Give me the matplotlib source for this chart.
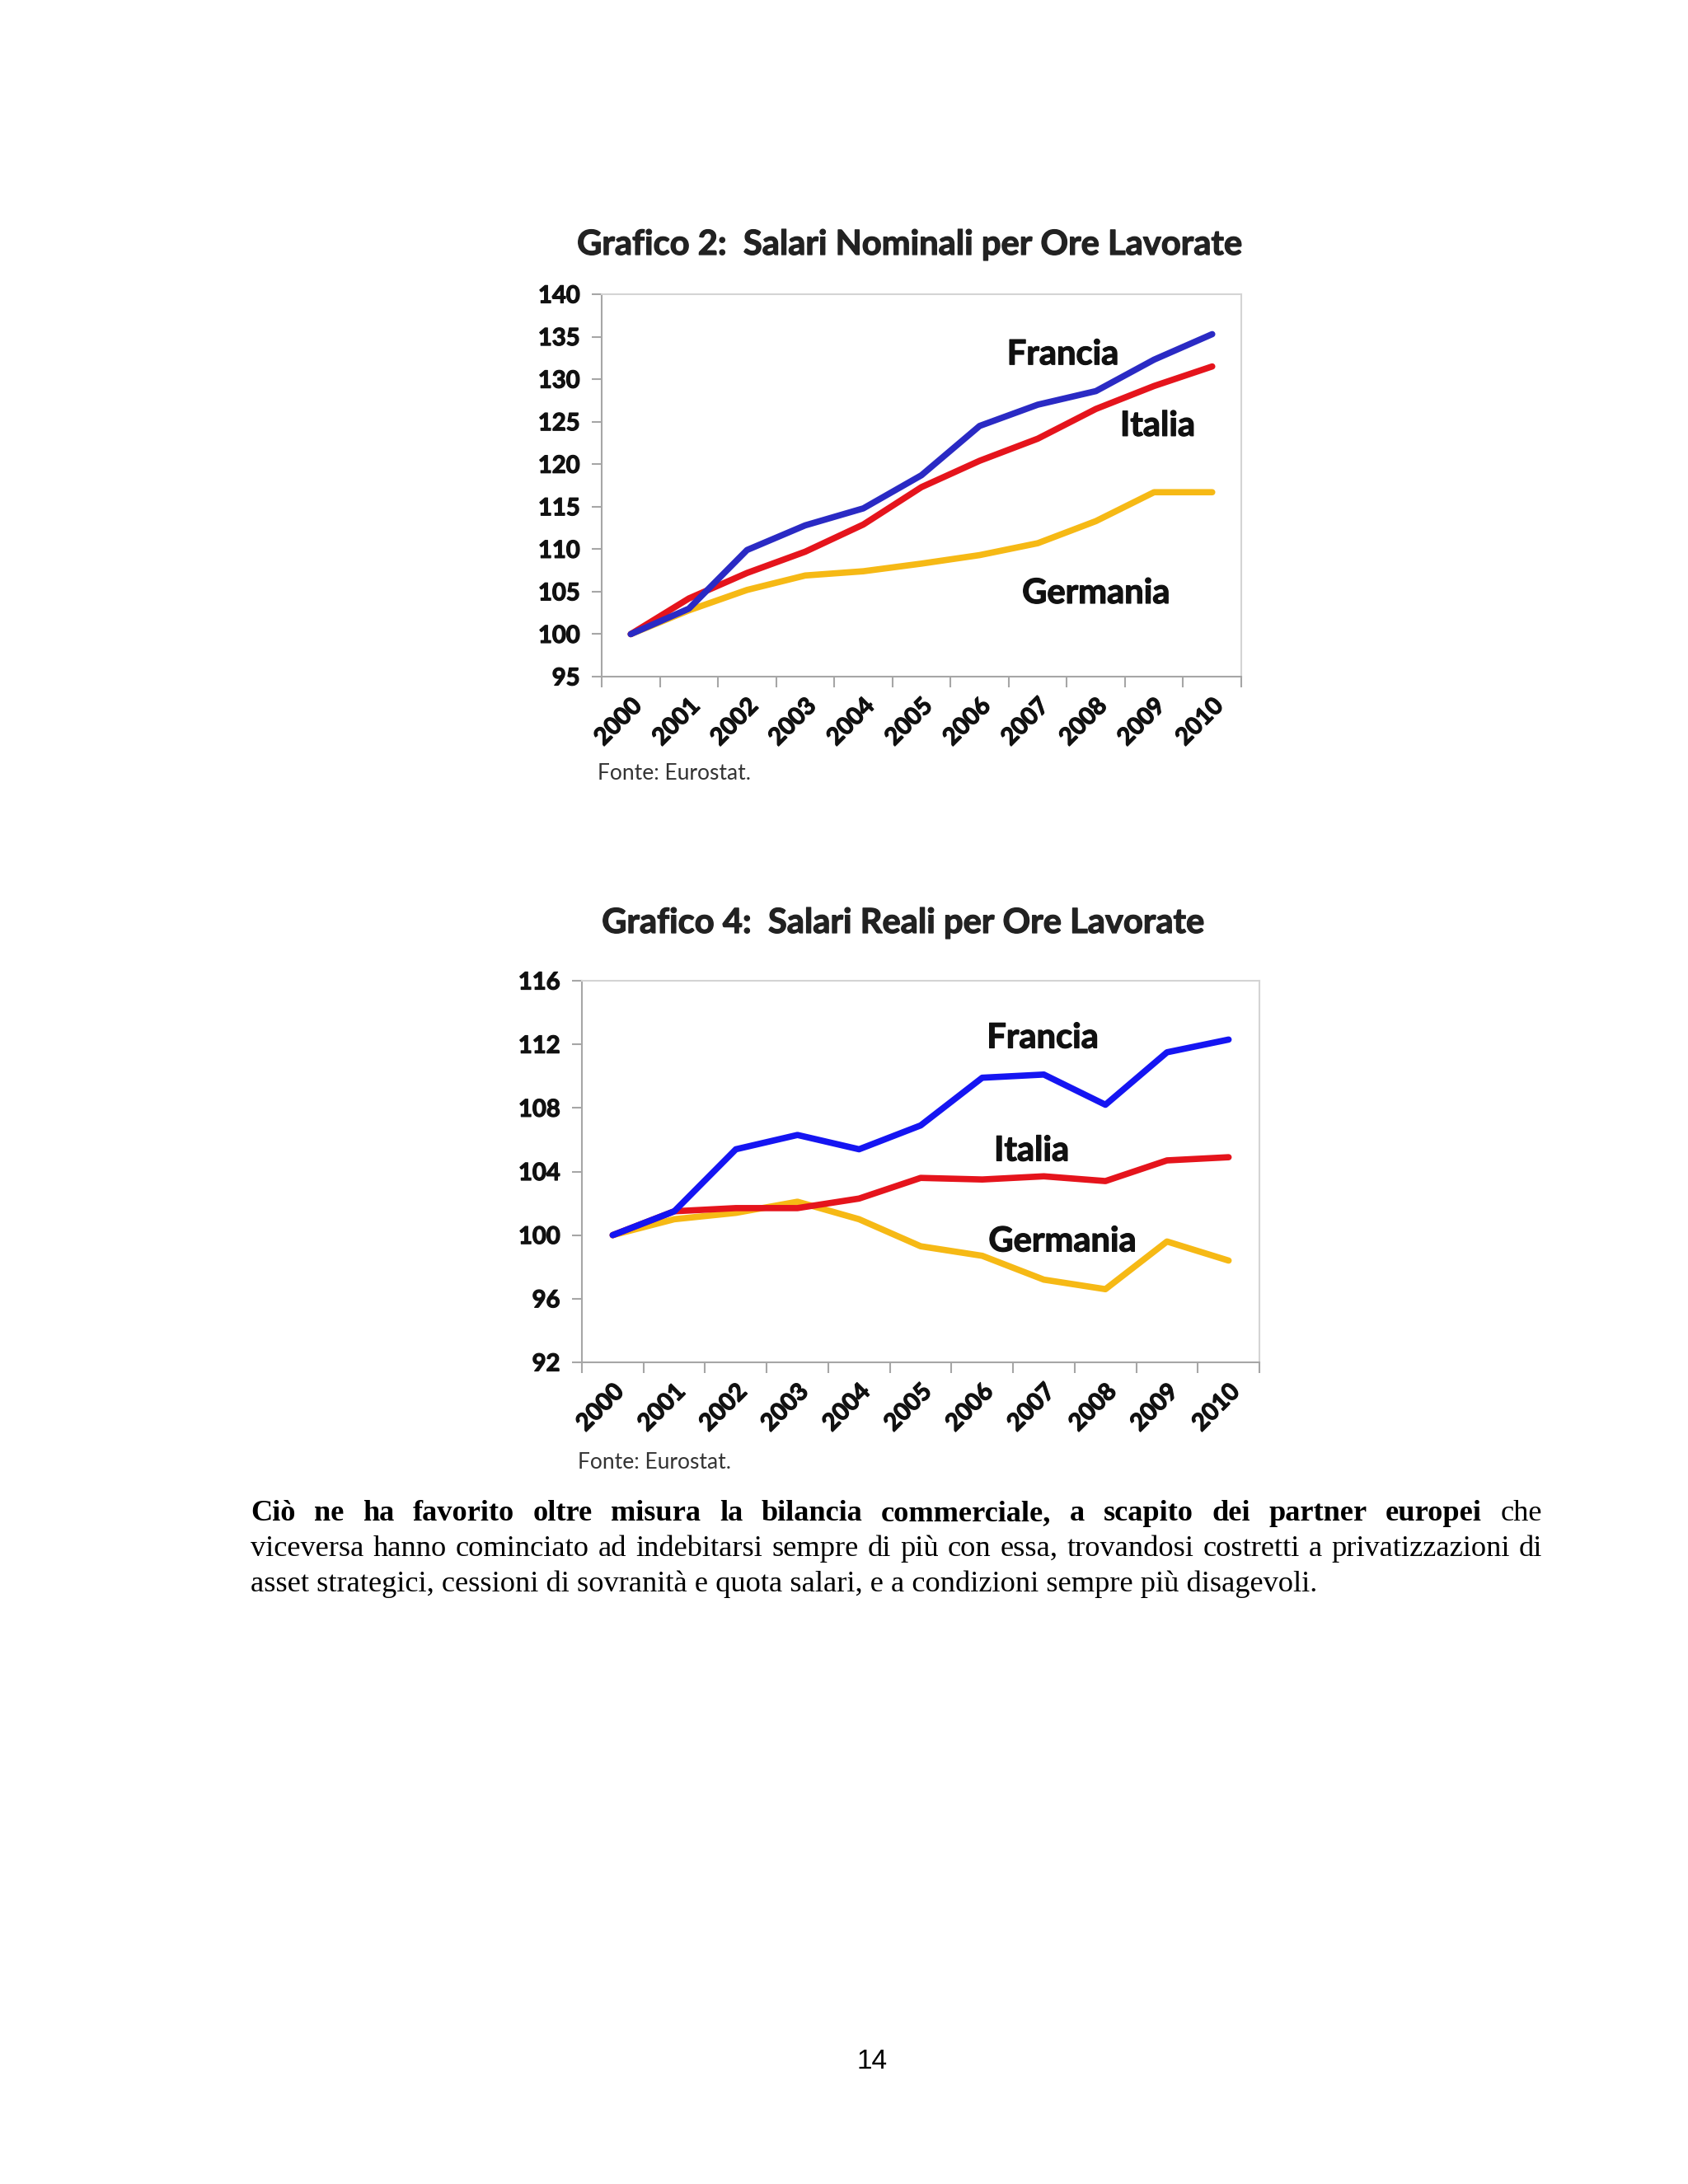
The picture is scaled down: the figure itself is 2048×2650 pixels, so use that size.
import numpy as np
import matplotlib
matplotlib.use("Agg")
import matplotlib.pyplot as plt
import matplotlib.patheffects as pe

# Dati
anni = ['2000', '2001', '2002', '2003', '2004', '2005', '2006', '2007', '2008', '2009', '2010']

# Grafico 2: salari nominali
nom_francia = [100, 103.0, 109.9, 112.8, 114.8, 118.7, 124.5, 127.0, 128.6, 132.3, 135.3]
nom_italia = [100, 104.2, 107.2, 109.7, 112.9, 117.3, 120.4, 123.0, 126.5, 129.2, 131.5]
nom_germania = [100, 102.8, 105.2, 106.9, 107.4, 108.3, 109.3, 110.7, 113.3, 116.7, 116.7]

# Grafico 4: salari reali
real_francia = [100, 101.5, 105.4, 106.3, 105.4, 106.9, 109.9, 110.1, 108.2, 111.5, 112.3]
real_italia = [100, 101.5, 101.7, 101.7, 102.3, 103.6, 103.5, 103.7, 103.4, 104.7, 104.9]
real_germania = [100, 101.0, 101.4, 102.1, 101.0, 99.3, 98.7, 97.2, 96.6, 99.6, 98.4]

W, H = 2048, 2650
fig = plt.figure(figsize=(W / 100, H / 100), dpi=100)
fig.patch.set_facecolor('white')

CHART_FONT = ['Lato', 'DejaVu Sans']
BLU1, BLU2 = '#2a2ac4', '#1515f2'
ROSSO = '#e5141c'
GIALLO = '#f6b915'
GRIGIO = '#a6a6a6'
# ispessisce un po' il grassetto (Calibri bold è più pesante di Lato bold)
SPESSO = [pe.withStroke(linewidth=0.9, foreground='#111111')]


def fx(px):
    return px / W


def fy(py):
    return 1 - py / H


def grafico(rect, serie, colori, yticks, etichette):
    left, top, right, bottom = rect
    ax = fig.add_axes([fx(left), fy(bottom), fx(right - left), (bottom - top) / H])
    x = np.arange(len(anni))
    for vals, col in zip(serie, colori):
        ax.plot(x, vals, color=col, lw=5.5, solid_joinstyle='round', solid_capstyle='round')
    ax.set_xlim(-0.5, len(anni) - 0.5)
    ax.set_ylim(yticks[0], yticks[-1])
    ax.set_yticks(yticks)
    ax.set_yticklabels([str(v) for v in yticks], fontsize=21, fontweight='bold', family=CHART_FONT,
                       color='#111111')
    ax.set_xticks(np.arange(-0.5, len(anni)), labels=[''] * (len(anni) + 1))
    ax.set_xticks(x, minor=True)
    ax.set_xticklabels(anni, minor=True, rotation=45, ha='right', rotation_mode='anchor',
                       fontsize=21, fontweight='bold', family=CHART_FONT, color='#111111')
    for lab in ax.get_yticklabels() + ax.get_xticklabels(minor=True):
        lab.set_path_effects(SPESSO)
    ax.tick_params(axis='x', which='minor', length=0, pad=16)
    ax.tick_params(axis='x', which='major', length=9, width=1.5, color=GRIGIO, direction='out')
    ax.tick_params(axis='y', length=9, width=1.5, color=GRIGIO, direction='out', pad=10)
    for s in ax.spines.values():
        s.set_color('#d4d4d4')
        s.set_linewidth(1.5)
    ax.spines['left'].set_color(GRIGIO)
    ax.spines['bottom'].set_color(GRIGIO)
    for testo, xi, yi in etichette:
        ax.text(xi, yi, testo, fontsize=30, fontweight='bold', family=CHART_FONT,
                ha='center', va='center', color='#111111', path_effects=SPESSO)
    return ax


grafico((730, 357, 1506, 821),
        [nom_germania, nom_italia, nom_francia], [GIALLO, ROSSO, BLU1],
        list(range(95, 141, 5)),
        [('Francia', 7.43, 132.9), ('Italia', 9.06, 124.5), ('Germania', 8.0, 104.8)])

grafico((706, 1190, 1528, 1653),
        [real_germania, real_italia, real_francia], [GIALLO, ROSSO, BLU2],
        list(range(92, 117, 4)),
        [('Francia', 6.98, 112.4), ('Italia', 6.8, 105.3), ('Germania', 7.3, 99.6)])

# Titoli e fonti
TITOLO_FX = [pe.withStroke(linewidth=0.9, foreground='#222222')]
fig.text(fx(1103), fy(297), 'Grafico 2:  Salari Nominali per Ore Lavorate', fontsize=30,
         fontweight='bold', family=CHART_FONT, ha='center', va='center', color='#222222',
         path_effects=TITOLO_FX)
fig.text(fx(1095), fy(1120), 'Grafico 4:  Salari Reali per Ore Lavorate', fontsize=30,
         fontweight='bold', family=CHART_FONT, ha='center', va='center', color='#222222',
         path_effects=TITOLO_FX)
fig.text(fx(725), fy(938), 'Fonte: Eurostat.', fontsize=19, family=CHART_FONT,
         ha='left', va='center', color='#333333')
fig.text(fx(701), fy(1774), 'Fonte: Eurostat.', fontsize=19, family=CHART_FONT,
         ha='left', va='center', color='#333333')

# Paragrafo giustificato
SERIF = 'Liberation Serif'
X0, X1 = 304, 1871
riga1 = [(w, 'bold') for w in
         'Ciò ne ha favorito oltre misura la bilancia commerciale, a scapito dei partner europei'.split()]
riga1 += [('che', 'normal')]
riga2 = [(w, 'normal') for w in
         'viceversa hanno cominciato ad indebitarsi sempre di più con essa, trovandosi costretti a privatizzazioni di'.split()]
riga3 = 'asset strategici, cessioni di sovranità e quota salari, e a condizioni sempre più disagevoli.'

renderer = fig.canvas.get_renderer()

# dimensione del carattere scelta in modo che l'ultima riga finisca a x=1597
t3 = fig.text(fx(X0), fy(1931), riga3, fontsize=20, family=SERIF, ha='left', va='baseline', color='black')
PSIZE = 20 * (1597 - X0) / t3.get_window_extent(renderer).width
t3.set_fontsize(PSIZE)


def riga_giustificata(parole, baseline):
    testi = []
    larghezze = []
    for w, peso in parole:
        t = fig.text(0, fy(baseline), w, fontsize=PSIZE, fontweight=peso, family=SERIF,
                     ha='left', va='baseline', color='black')
        testi.append(t)
        larghezze.append(t.get_window_extent(renderer).width)
    spazio = (X1 - X0 - sum(larghezze)) / (len(parole) - 1)
    x = X0
    for t, lw in zip(testi, larghezze):
        t.set_x(fx(x))
        x += lw + spazio


riga_giustificata(riga1, 1845)
riga_giustificata(riga2, 1888)

fig.text(fx(1058), fy(2501), '14', fontsize=24, family='Liberation Sans', ha='center', va='center')

fig.savefig('out.png', dpi=100, facecolor='white')
